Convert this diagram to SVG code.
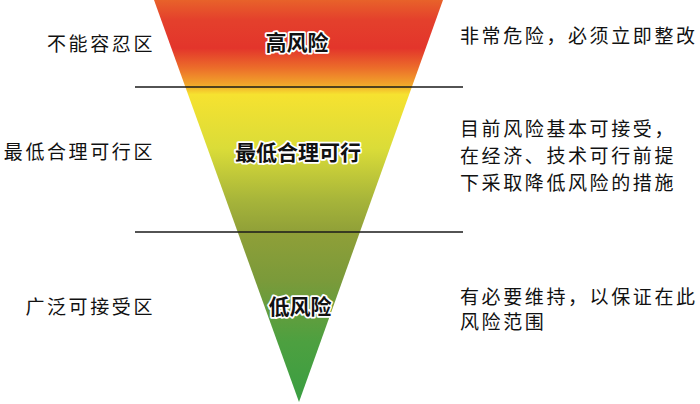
<svg xmlns="http://www.w3.org/2000/svg" width="700" height="404" viewBox="0 0 700 404">
<defs>
<linearGradient id="g" x1="0" y1="0" x2="0" y2="402" gradientUnits="userSpaceOnUse">
<stop offset="0" stop-color="#e8622a"/>
<stop offset="0.05" stop-color="#e4402c"/>
<stop offset="0.12" stop-color="#e3352b"/>
<stop offset="0.17" stop-color="#ec6e2a"/>
<stop offset="0.21" stop-color="#f2a52a"/>
<stop offset="0.235" stop-color="#f6e230"/>
<stop offset="0.37" stop-color="#dadc38"/>
<stop offset="0.5" stop-color="#a6b43a"/>
<stop offset="0.58" stop-color="#8f9f38"/>
<stop offset="0.7" stop-color="#7a9a3a"/>
<stop offset="0.85" stop-color="#4da040"/>
<stop offset="1" stop-color="#3a9e42"/>
</linearGradient>
<style>
.t{font-family:"Noto Sans CJK SC","Noto Sans CJK JP",sans-serif;font-size:19px;letter-spacing:2.6px;fill:#111}
.r{text-anchor:end}
.in{font-family:"Noto Sans CJK SC","Noto Sans CJK JP",sans-serif;font-size:21px;font-weight:bold;text-anchor:middle;fill:#111;stroke:#fff;stroke-width:3.5px;paint-order:stroke;stroke-linejoin:round}
.ln{stroke:#1a1a1a;stroke-width:1.6}
</style>
</defs>
<g id="triangle">
<polygon points="154,0 443,0 299,402" fill="url(#g)"/>
</g>
<g id="connectors">
<line class="ln" x1="135" y1="87" x2="463" y2="87"/>
<line class="ln" x1="135" y1="232" x2="463" y2="232"/>
</g>
<g id="zone-high">
<text class="in" x="297" y="50">高风险</text>
<text class="t r" x="155" y="51">不能容忍区</text>
<text class="t" x="460" y="43">非常危险，必须立即整改</text>
</g>
<g id="zone-alarp">
<text class="in" x="298" y="160">最低合理可行</text>
<text class="t r" x="155" y="159">最低合理可行区</text>
<text class="t" x="460" y="136">目前风险基本可接受，</text>
<text class="t" x="460" y="163">在经济、技术可行前提</text>
<text class="t" x="460" y="190">下采取降低风险的措施</text>
</g>
<g id="zone-low">
<text class="in" x="300" y="314">低风险</text>
<text class="t r" x="155" y="314">广泛可接受区</text>
<text class="t" x="460" y="304">有必要维持，以保证在此</text>
<text class="t" x="460" y="329">风险范围</text>
</g>
</svg>
